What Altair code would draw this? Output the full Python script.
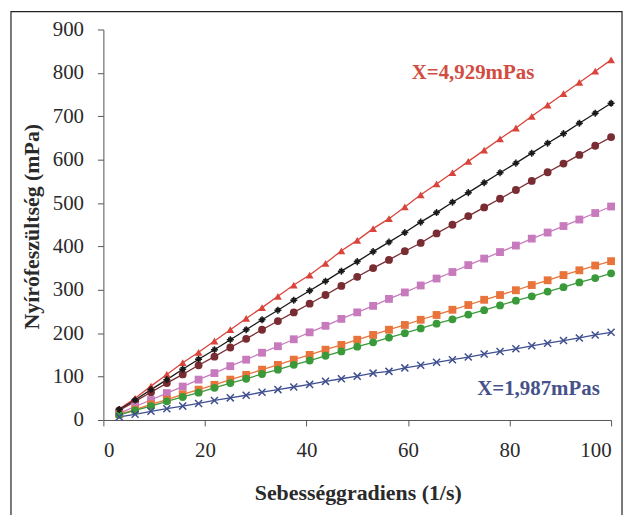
import altair as alt
import pandas as pd

# shear rate (1/s)
shear_rate = [3.125 * k for k in range(1, 33)]

series_names = ["S1", "S2", "S3", "S4", "S5", "S6", "S7"]

red = [25, 50, 78, 105, 132, 156, 182, 208, 234, 259, 285, 311, 334, 361, 390, 414,
       441, 464, 491, 519, 544, 570, 596, 622, 648, 673, 700, 726, 752, 778, 804, 830]
black = [24, 46, 70, 93, 117, 140, 162, 185, 208, 231, 253, 276, 298, 320, 343, 365,
         388, 410, 432, 456, 478, 502, 524, 547, 570, 592, 615, 638, 660, 684, 707, 730]
brown = [22, 43, 64, 85, 105, 126, 146, 167, 187, 208, 228, 248, 268, 288, 309, 330,
         350, 369, 389, 408, 430, 450, 470, 490, 510, 530, 551, 571, 591, 611, 632, 652]
pink = [15, 31, 46, 62, 77, 93, 108, 124, 139, 155, 170, 186, 202, 217, 233, 248,
        263, 279, 294, 310, 326, 341, 357, 372, 387, 402, 418, 432, 447, 462, 477, 492]
orange = [13, 24, 36, 47, 59, 70, 81, 93, 104, 116, 127, 139, 150, 162, 173, 185,
          196, 208, 219, 231, 242, 254, 265, 277, 288, 299, 311, 322, 334, 345, 356, 366]
green = [12, 22, 32, 43, 53, 63, 74, 85, 95, 106, 116, 127, 137, 148, 158, 169,
         179, 190, 200, 211, 222, 232, 243, 253, 264, 275, 285, 296, 306, 317, 327, 338]
blue = [7, 13, 20, 26, 32, 38, 45, 51, 57, 64, 70, 76, 82, 89, 95, 101,
        108, 112, 120, 126, 133, 139, 145, 152, 158, 164, 171, 177, 183, 189, 196, 202]

values = [red, black, brown, pink, orange, green, blue]

colors = ["#d9443c", "#1a1a1a", "#7a2c33", "#c77bbd", "#e8743b", "#3a9a3a", "#3f4f8f"]
shapes = ["triangle-up",
          "M-1,0L1,0M0,-1L0,1M-0.6,-0.6L0.6,0.6M-0.6,0.6L0.6,-0.6",
          "circle", "square", "square", "circle",
          "M-1,-1L1,1M-1,1L1,-1"]
filled_series = ["S1", "S3", "S4", "S5", "S6"]
stroked_series = ["S2", "S7"]

ann_text = ["X=4,929mPas", "X=1,987mPas"]
ann_x = [72.8, 85.7]
ann_y = [799, 71]
ann_color = ["#d24c42", "#46518a"]

rows = []
for name, vals in zip(series_names, values):
    for xv, yv in zip(shear_rate, vals):
        rows.append({"series": name, "x": xv, "y": yv})
df = pd.DataFrame(rows)

ann = pd.DataFrame({"text": ann_text, "x": ann_x, "y": ann_y, "c": ann_color})

FONT = "Liberation Serif"

xenc = alt.X("x:Q", scale=alt.Scale(domain=[0, 100], nice=False),
             axis=alt.Axis(values=[0, 20, 40, 60, 80, 100], title="Sebességgradiens (1/s)",
                           titleX=256, titleY=73, titleBaseline="middle"))
yenc = alt.Y("y:Q", scale=alt.Scale(domain=[0, 900], nice=False),
             axis=alt.Axis(values=list(range(0, 901, 100)), title="Nyírófeszültség (mPa)",
                           titleX=-72, titleY=198, titleBaseline="middle", titleAngle=-90))
color = alt.Color("series:N", scale=alt.Scale(domain=series_names, range=colors), legend=None)
shape = alt.Shape("series:N", scale=alt.Scale(domain=series_names, range=shapes), legend=None)

base = alt.Chart(df)

lines = base.mark_line(strokeWidth=1.3).encode(x=xenc, y=yenc, color=color, detail="series:N")

pts_filled = base.transform_filter(
    alt.FieldOneOfPredicate(field="series", oneOf=filled_series)
).mark_point(filled=True, size=62, opacity=1).encode(x="x:Q", y="y:Q", color=color, shape=shape)

pts_stroked = base.transform_filter(
    alt.FieldOneOfPredicate(field="series", oneOf=stroked_series)
).mark_point(filled=False, size=50, strokeWidth=1.5, opacity=1).encode(x="x:Q", y="y:Q", color=color, shape=shape)

labels = alt.Chart(ann).mark_text(font=FONT, fontSize=21, fontWeight="bold", align="center",
                                  baseline="middle").encode(
    x="x:Q", y="y:Q", text="text:N", color=alt.Color("c:N", scale=None))

frame = alt.Chart(pd.DataFrame({"k": [0]})).mark_rect(fill=None, stroke="#222", strokeWidth=1.2).encode(
    x=alt.value(-93), x2=alt.value(522), y=alt.value(-18), y2=alt.value(510))

chart = alt.layer(frame, lines, pts_filled, pts_stroked, labels).properties(
    width=511, height=393,
    autosize=alt.AutoSizeParams(type="none"),
    padding={"left": 96, "top": 20, "right": 14, "bottom": 94},
).configure_view(stroke=None).configure_axis(
    labelFont=FONT, titleFont=FONT, labelFontSize=21, titleFontSize=22,
    titleFontWeight="bold", labelColor="#2a2a2a", titleColor="#2a2a2a",
    domainColor="#555", tickColor="#555", tickSize=6, grid=False,
).configure_axisY(labelPadding=14).configure_axisX(labelPadding=14)

chart.save("out.html", embed_options={"renderer": "svg", "actions": False})
